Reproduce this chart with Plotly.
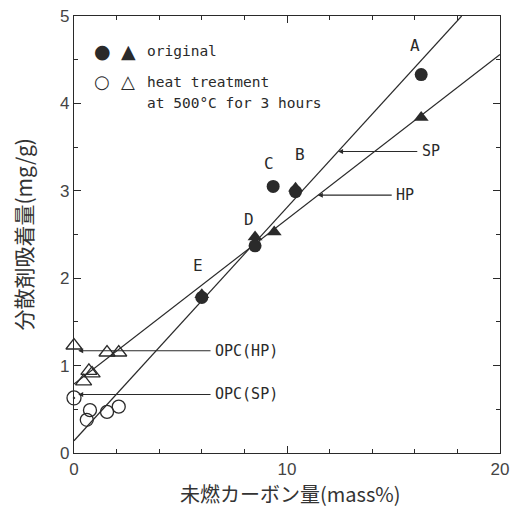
import plotly.graph_objects as go

# ---- data ----
orig_circle_x = [16.3, 9.35, 10.4, 8.5, 6.0]
orig_circle_y = [4.33, 3.05, 2.99, 2.37, 1.78]
orig_tri_x = [16.3, 10.4, 9.4, 8.5, 6.0]
orig_tri_y = [3.84, 3.03, 2.53, 2.47, 1.81]

heat_tri_x = [0.0, 1.55, 2.1, 0.7, 0.85, 0.45]
heat_tri_y = [1.23, 1.15, 1.15, 0.94, 0.91, 0.82]
heat_circle_x = [0.75, 0.6, 1.55, 2.1]
heat_circle_y = [0.49, 0.38, 0.47, 0.53]
opc_sp_x = [0.0]
opc_sp_y = [0.63]

sp_line_x = [0.0, 18.2]
sp_line_y = [0.14, 5.0]
hp_line_x = [0.0, 20.0]
hp_line_y = [0.79, 4.56]

point_labels = ["A", "B", "C", "D", "E"]
point_label_x = [16.0, 10.6, 9.15, 8.2, 5.8]
point_label_y = [4.66, 3.41, 3.31, 2.67, 2.15]

arrow_labels = ["SP", "HP", "OPC(HP)", "OPC(SP)"]
arrow_tip_x = [12.4, 11.45, 0.2, 0.2]
arrow_tip_y = [3.45, 2.95, 1.17, 0.67]
arrow_text_x = [16.75, 15.55, 8.1, 8.1]

legend_symbols = [["●", "▲"], ["○", "△"]]
legend_lines = ["original", "heat treatment", "at 500°C for 3 hours"]

ink = "#2a2a2a"
mono = "DejaVu Sans Mono"

fig = go.Figure()
fig.add_trace(go.Scatter(x=sp_line_x, y=sp_line_y, mode="lines",
                         line=dict(color=ink, width=1.2), showlegend=False))
fig.add_trace(go.Scatter(x=hp_line_x, y=hp_line_y, mode="lines",
                         line=dict(color=ink, width=1.2), showlegend=False))
fig.add_trace(go.Scatter(x=orig_circle_x, y=orig_circle_y, mode="markers",
                         marker=dict(symbol="circle", size=13, color=ink),
                         cliponaxis=False, showlegend=False))
fig.add_trace(go.Scatter(x=orig_tri_x, y=orig_tri_y, mode="markers",
                         marker=dict(symbol="triangle-up", size=13, color=ink),
                         cliponaxis=False, showlegend=False))
fig.add_trace(go.Scatter(x=heat_tri_x, y=heat_tri_y, mode="markers",
                         marker=dict(symbol="triangle-up-open", size=14, color=ink,
                                     line=dict(width=1.3)),
                         cliponaxis=False, showlegend=False))
fig.add_trace(go.Scatter(x=heat_circle_x, y=heat_circle_y, mode="markers",
                         marker=dict(symbol="circle-open", size=13, color=ink,
                                     line=dict(width=1.3)),
                         cliponaxis=False, showlegend=False))
fig.add_trace(go.Scatter(x=opc_sp_x, y=opc_sp_y, mode="markers",
                         marker=dict(symbol="circle-open-dot", size=14, color=ink,
                                     line=dict(width=1.3)),
                         cliponaxis=False, showlegend=False))

annotations = []
for t, x, y in zip(point_labels, point_label_x, point_label_y):
    annotations.append(dict(x=x, y=y, xref="x", yref="y", text=t, showarrow=False,
                            xanchor="center", yanchor="middle",
                            font=dict(family=mono, size=16, color=ink)))
for t, tx, ty, lx in zip(arrow_labels, arrow_tip_x, arrow_tip_y, arrow_text_x):
    annotations.append(dict(x=tx, y=ty, xref="x", yref="y", ax=lx, ay=ty,
                            axref="x", ayref="y", text=t, showarrow=True,
                            arrowhead=2, arrowsize=0.9, arrowwidth=1.1,
                            arrowcolor=ink, borderpad=4,
                            font=dict(family=mono, size=15, color=ink)))

# legend (text-based)
sym_x = [0.066, 0.127]
row_y = [0.920, 0.849]
for r, syms in enumerate(legend_symbols):
    for c, s in enumerate(syms):
        annotations.append(dict(x=sym_x[c], y=row_y[r], xref="paper", yref="paper",
                                text=s, showarrow=False, xanchor="center", yanchor="middle",
                                font=dict(family="DejaVu Sans", size=19 if r == 0 else 18,
                                          color=ink)))
for t, y in zip(legend_lines, [0.920, 0.849, 0.800]):
    annotations.append(dict(x=0.166, y=y, xref="paper", yref="paper", xanchor="left",
                            yanchor="middle", text=t, showarrow=False,
                            font=dict(family=mono, size=14.5, color=ink)))

# axis titles
annotations.append(dict(x=0.507, y=-0.092, xref="paper", yref="paper",
                        xanchor="center", yanchor="middle",
                        text="未燃カーボン量(mass%)", showarrow=False,
                        font=dict(family="Noto Sans CJK JP", size=20, color="#333")))
annotations.append(dict(x=-0.122, y=0.5, xref="paper", yref="paper",
                        xanchor="center", yanchor="middle",
                        text="分散剤吸着量(mg/g)", showarrow=False, textangle=-90,
                        font=dict(family="Noto Sans CJK JP", size=21, color="#333")))

fig.update_layout(
    width=512, height=507,
    margin=dict(l=74, r=12, t=16, b=54),
    paper_bgcolor="white", plot_bgcolor="white",
    annotations=annotations,
    showlegend=False,
)
fig.update_xaxes(range=[0, 20], tickvals=[0, 10, 20], ticktext=["0", "10", "20"],
                 ticks="inside", ticklen=7, tickwidth=1, tickcolor=ink,
                 minor=dict(dtick=2, ticks="inside", ticklen=4, tickcolor=ink),
                 showline=True, linecolor=ink, linewidth=1.2, mirror="allticks",
                 showgrid=False, zeroline=False, automargin=False,
                 tickfont=dict(family="Liberation Sans", size=17, color="#444"))
fig.update_yaxes(range=[0, 5], tickvals=[0, 1, 2, 3, 4, 5],
                 ticks="inside", ticklen=7, tickwidth=1, tickcolor=ink,
                 minor=dict(dtick=0.5, ticks="inside", ticklen=4, tickcolor=ink),
                 showline=True, linecolor=ink, linewidth=1.2, mirror="allticks",
                 showgrid=False, zeroline=False, automargin=False,
                 tickfont=dict(family="Liberation Sans", size=17, color="#444"))

fig.write_html("out.html")
